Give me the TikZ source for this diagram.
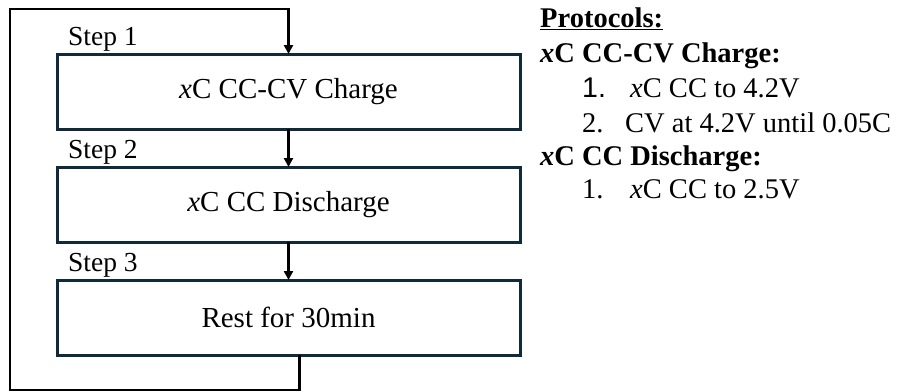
\documentclass[tikz,border=0pt]{standalone}
\usepackage{fontspec}
\setmainfont{Liberation Serif}
\newfontfamily\numfont{Liberation Sans}
\usetikzlibrary{arrows.meta, positioning}
\definecolor{boxnavy}{RGB}{16, 42, 58}

\begin{document}
\begin{tikzpicture}[x=1pt, y=-1pt,
    stepbox/.style={draw=boxnavy, line width=3pt, minimum width=463pt,
                    minimum height=75pt, inner sep=0pt, outer sep=0pt,
                    align=center, font=\fontsize{29}{33}\selectfont},
    steplbl/.style={anchor=base west, inner sep=0pt,
                    font=\fontsize{27.5}{30}\selectfont},
    txt/.style={anchor=base west, inner sep=0pt,
                font=\fontsize{28.5}{31}\selectfont},
    arr/.style={-{Triangle[length=9pt, width=9pt]}, line width=2.5pt},
]
    \useasboundingbox (0,0) rectangle (899,391);

    % the three steps
    \node[stepbox] (chg) at (288.5,91.5) {\textit{x}C CC-CV Charge};
    \node[stepbox, below=38pt of chg] (dis) {\textit{x}C CC Discharge};
    \node[stepbox, below=38pt of dis] (rst) {Rest for 30min};

    \node[steplbl] (s1) at ([xshift=11pt, yshift=9pt]chg.north west) {Step 1};
    \node[steplbl] (s2) at ([xshift=11pt, yshift=9pt]dis.north west) {Step 2};
    \node[steplbl] (s3) at ([xshift=11pt, yshift=9pt]rst.north west) {Step 3};

    \draw[arr] (chg.south) -- (dis.north);
    \draw[arr] (dis.south) -- (rst.north);

    % loop back to step 1
    \coordinate (loopbot) at (10,390);
    \coordinate (looptop) at (10,9);
    \draw[arr, line join=miter] ([xshift=11pt]rst.south) |- (loopbot)
        -- (looptop) -| (chg.north);

    % protocol notes
    \node[txt] (proto) at (540,27) {\textbf{\underline{Protocols:}}};
    \node[txt] (pc)  at (540,62)  {\textbf{\textit{x}C CC-CV Charge:}};
    \node[txt] (pc1) at (582,97)  {\makebox[48pt][l]{\numfont 1.}\textit{x}C CC to 4.2V};
    \node[txt] (pc2) at (582,132) {\makebox[43pt][l]{2.}CV at 4.2V until 0.05C};
    \node[txt] (pd)  at (540,165) {\textbf{\textit{x}C CC Discharge:}};
    \node[txt] (pd1) at (582,198) {\makebox[48pt][l]{1.}\textit{x}C CC to 2.5V};
\end{tikzpicture}
\end{document}
